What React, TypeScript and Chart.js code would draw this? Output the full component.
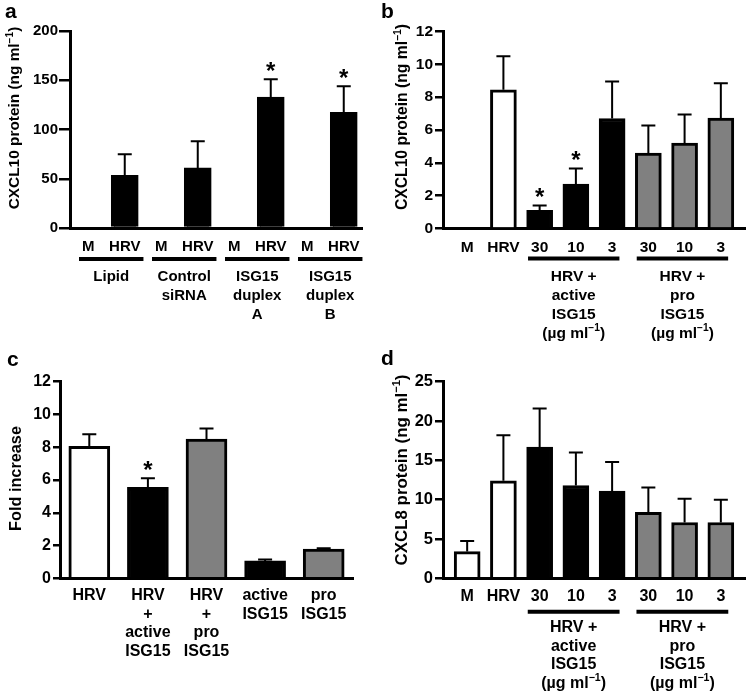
import React, { useEffect, useRef } from "react";
import { Chart, registerables } from "chart.js";

Chart.register(...registerables);

const FONT = "'Liberation Sans', Arial, Helvetica, sans-serif";
const WHITE = "#ffffff";
const BLACK = "#000000";
const GRAY = "#808080";

// ---------- Panel a ----------
const aCategories = ["M", "HRV", "M", "HRV", "M", "HRV", "M", "HRV"];
const aValues = [null, 53.5, null, 61, null, 133, null, 117.5];
const aErrors = [null, 75, null, 88, null, 151, null, 144];
const aFills = [BLACK, BLACK, BLACK, BLACK, BLACK, BLACK, BLACK, BLACK];
const aStars = [false, false, false, false, false, true, false, true];
const aYTicks = [0, 50, 100, 150, 200];
const aGroupRanges = [[0, 1], [2, 3], [4, 5], [6, 7]];
const aGroupLabels = [["Lipid"], ["Control", "siRNA"], ["ISG15", "duplex", "A"], ["ISG15", "duplex", "B"]];

// ---------- Panel b ----------
const bCategories = ["M", "HRV", "30", "10", "3", "30", "10", "3"];
const bValues = [null, 8.45, 1.1, 2.7, 6.7, 4.6, 5.2, 6.72];
const bErrors = [null, 10.5, 1.4, 3.65, 8.95, 6.27, 6.95, 8.85];
const bFills = [WHITE, WHITE, BLACK, BLACK, BLACK, GRAY, GRAY, GRAY];
const bStars = [false, false, true, true, false, false, false, false];
const bYTicks = [0, 2, 4, 6, 8, 10, 12];
const bGroupRanges = [[2, 4], [5, 7]];
const bGroupLabels = [["HRV +", "active", "ISG15", "(µg ml{−1})"], ["HRV +", "pro", "ISG15", "(µg ml{−1})"]];

// ---------- Panel c ----------
const cCategories = [["HRV"], ["HRV", "+", "active", "ISG15"], ["HRV", "+", "pro", "ISG15"], ["active", "ISG15"], ["pro", "ISG15"]];
const cValues = [8.05, 5.55, 8.5, 1.06, 1.78];
const cErrors = [8.8, 6.1, 9.15, 1.15, 1.84];
const cFills = [WHITE, BLACK, GRAY, BLACK, GRAY];
const cStars = [false, true, false, false, false];
const cYTicks = [0, 2, 4, 6, 8, 10, 12];

// ---------- Panel d ----------
const dCategories = ["M", "HRV", "30", "10", "3", "30", "10", "3"];
const dValues = [3.4, 12.4, 16.7, 11.8, 11.1, 8.4, 7.1, 7.1];
const dErrors = [4.75, 18.2, 21.6, 16.0, 14.8, 11.55, 10.1, 10.0];
const dFills = [WHITE, WHITE, BLACK, BLACK, BLACK, GRAY, GRAY, GRAY];
const dStars = [false, false, false, false, false, false, false, false];
const dYTicks = [0, 5, 10, 15, 20, 25];
const dGroupRanges = [[2, 4], [5, 7]];
const dGroupLabels = [["HRV +", "active", "ISG15", "(µg ml{−1})"], ["HRV +", "pro", "ISG15", "(µg ml{−1})"]];

type Seg = { t: string; sup: boolean };
function parseRich(s: string): Seg[] {
  const out: Seg[] = [];
  s.split(/(\{[^}]*\})/).forEach((p) => {
    if (!p) return;
    if (p.startsWith("{")) out.push({ t: p.slice(1, -1), sup: true });
    else out.push({ t: p, sup: false });
  });
  return out;
}
function drawRich(ctx: CanvasRenderingContext2D, s: string, x: number, y: number, size: number) {
  const segs = parseRich(s);
  const supSize = size * 0.66;
  const fontOf = (sup: boolean) => `bold ${sup ? supSize : size}px ${FONT}`;
  let total = 0;
  const widths = segs.map((g) => {
    ctx.font = fontOf(g.sup);
    const w = ctx.measureText(g.t).width;
    total += w;
    return w;
  });
  let cx = x - total / 2;
  ctx.textAlign = "left";
  ctx.textBaseline = "middle";
  segs.forEach((g, i) => {
    ctx.font = fontOf(g.sup);
    ctx.fillText(g.t, cx, g.sup ? y - size * 0.32 : y);
    cx += widths[i];
  });
}

type PanelCfg = {
  left: number; top: number; W: number; H: number;
  categories: any[]; values: (number | null)[]; errors: (number | null)[];
  fills: string[]; stars: boolean[]; yTicks: number[];
  groupRanges?: number[][]; groupLabels?: string[][];
  title: string; letter: string;
  axisLeft: number; axisTop: number; axisBottom: number; axisRight: number;
  xMin: number; xMax: number; barWidth: number;
  tickLen: number; tickPad: number; yFont: number; xFont: number; xLH: number; xPad: number;
  groupLine?: number; groupText?: number; groupLH?: number; groupFont?: number;
  titleX: number; titleY: number; titleFont: number;
  letterX: number; letterY: number;
};

const panels: PanelCfg[] = [
  {
    left: 0, top: 0, W: 373, H: 346,
    categories: aCategories, values: aValues, errors: aErrors, fills: aFills, stars: aStars, yTicks: aYTicks,
    groupRanges: aGroupRanges, groupLabels: aGroupLabels,
    title: "CXCL10 protein (ng ml{−1})", letter: "a",
    axisLeft: 70, axisTop: 31, axisBottom: 228, axisRight: 362,
    xMin: -0.5, xMax: 7.5, barWidth: 27,
    tickLen: 11, tickPad: 1, yFont: 15, xFont: 15, xLH: 1.2, xPad: 10,
    groupLine: 31, groupText: 49, groupLH: 19, groupFont: 15,
    titleX: 15, titleY: 118, titleFont: 15.4, letterX: 5, letterY: 18,
  },
  {
    left: 373, top: 0, W: 373, H: 346,
    categories: bCategories, values: bValues, errors: bErrors, fills: bFills, stars: bStars, yTicks: bYTicks,
    groupRanges: bGroupRanges, groupLabels: bGroupLabels,
    title: "CXCL10 protein (ng ml{−1})", letter: "b",
    axisLeft: 70, axisTop: 31.5, axisBottom: 228.5, axisRight: 372,
    xMin: -0.667, xMax: 7.667, barWidth: 26,
    tickLen: 8, tickPad: 2, yFont: 15.5, xFont: 15.5, xLH: 1.2, xPad: 10,
    groupLine: 30, groupText: 48.5, groupLH: 18.8, groupFont: 15.5,
    titleX: 30, titleY: 117, titleFont: 15.7, letterX: 8, letterY: 18,
  },
  {
    left: 0, top: 346, W: 373, H: 347,
    categories: cCategories, values: cValues, errors: cErrors, fills: cFills, stars: cStars, yTicks: cYTicks,
    title: "Fold increase", letter: "c",
    axisLeft: 60, axisTop: 35.7, axisBottom: 232.3, axisRight: 353,
    xMin: -0.5, xMax: 4.5, barWidth: 41,
    tickLen: 7, tickPad: 2, yFont: 16, xFont: 16, xLH: 1.15, xPad: 8.5,
    titleX: 16.5, titleY: 132.5, titleFont: 16.3, letterX: 7, letterY: 20,
  },
  {
    left: 373, top: 346, W: 373, H: 347,
    categories: dCategories, values: dValues, errors: dErrors, fills: dFills, stars: dStars, yTicks: dYTicks,
    groupRanges: dGroupRanges, groupLabels: dGroupLabels,
    title: "CXCL8 protein (ng ml{−1})", letter: "d",
    axisLeft: 70, axisTop: 35.7, axisBottom: 232.3, axisRight: 372,
    xMin: -0.667, xMax: 7.667, barWidth: 26,
    tickLen: 8, tickPad: 2, yFont: 16.5, xFont: 16, xLH: 1.2, xPad: 8.5,
    groupLine: 33.4, groupText: 49.4, groupLH: 18.6, groupFont: 16,
    titleX: 29.5, titleY: 124, titleFont: 16.9, letterX: 8, letterY: 19,
  },
];

function makeDecor(p: PanelCfg) {
  return {
    id: "decor" + p.letter,
    afterDatasetsDraw(chart: any) {
      const ctx: CanvasRenderingContext2D = chart.ctx;
      const meta = chart.getDatasetMeta(0);
      const ys = chart.scales.y;
      ctx.save();
      ctx.strokeStyle = BLACK;
      ctx.fillStyle = BLACK;
      ctx.lineWidth = 2;
      p.errors.forEach((e, i) => {
        const v = p.values[i];
        if (e == null || v == null) return;
        const el = meta.data[i];
        const x = el.x;
        const yTop = ys.getPixelForValue(e);
        const yV = ys.getPixelForValue(v);
        ctx.beginPath();
        ctx.moveTo(x, yV);
        ctx.lineTo(x, yTop);
        ctx.moveTo(x - 7, yTop);
        ctx.lineTo(x + 7, yTop);
        ctx.stroke();
        if (p.stars[i]) {
          const fs = 24;
          ctx.font = `bold ${fs}px ${FONT}`;
          ctx.textAlign = "center";
          ctx.textBaseline = "alphabetic";
          ctx.fillText("*", x, yTop - 14 + fs * 0.575);
        }
      });
      ctx.restore();
    },
    afterDraw(chart: any) {
      const ctx: CanvasRenderingContext2D = chart.ctx;
      const xs = chart.scales.x;
      ctx.save();
      ctx.fillStyle = BLACK;
      ctx.strokeStyle = BLACK;
      if (p.groupRanges && p.groupLabels) {
        p.groupRanges.forEach((rg, gi) => {
          const [s, e] = rg;
          ctx.font = `bold ${p.xFont}px ${FONT}`;
          const lw = ctx.measureText(String(p.categories[s])).width;
          const rw = ctx.measureText(String(p.categories[e])).width;
          const l = xs.getPixelForValue(s) - lw / 2 - 3;
          const r = xs.getPixelForValue(e) + rw / 2 + 3;
          const ly = xs.top + (p.groupLine as number);
          ctx.lineWidth = 4;
          ctx.beginPath();
          ctx.moveTo(l, ly);
          ctx.lineTo(r, ly);
          ctx.stroke();
          p.groupLabels![gi].forEach((ln, li) => {
            drawRich(ctx, ln, (l + r) / 2, xs.top + (p.groupText as number) + li * (p.groupLH as number), p.groupFont as number);
          });
        });
      }
      // y title
      ctx.save();
      ctx.translate(p.titleX, p.titleY);
      ctx.rotate(-Math.PI / 2);
      drawRich(ctx, p.title, 0, 0, p.titleFont);
      ctx.restore();
      // letter
      ctx.font = `bold 21px ${FONT}`;
      ctx.textAlign = "left";
      ctx.textBaseline = "alphabetic";
      ctx.fillText(p.letter, p.letterX, p.letterY);
      ctx.restore();
    },
  };
}

function Panel({ p }: { p: PanelCfg }) {
  const ref = useRef<HTMLCanvasElement | null>(null);
  useEffect(() => {
    if (!ref.current) return;
    const chart = new Chart(ref.current, {
      type: "bar",
      data: {
        datasets: [
          {
            data: p.values.map((v, i) => ({ x: i, y: v })) as any,
            backgroundColor: p.fills,
            borderColor: BLACK,
            borderWidth: 3,
            barThickness: p.barWidth,
          },
        ],
      },
      options: {
        animation: false,
        responsive: false,
        events: [],
        layout: { padding: { left: 0, top: p.axisTop, right: p.W - p.axisRight, bottom: 0 } },
        plugins: { legend: { display: false }, tooltip: { enabled: false }, title: { display: false } },
        scales: {
          x: {
            type: "linear",
            min: p.xMin,
            max: p.xMax,
            offset: false,
            z: 1,
            grid: { display: false, drawTicks: false, offset: false },
            border: { display: true, width: 3, color: BLACK },
            afterFit: (s: any) => { s.height = p.H - p.axisBottom; },
            afterBuildTicks: (s: any) => { s.ticks = p.categories.map((_, i) => ({ value: i })); },
            ticks: {
              autoSkip: false,
              maxRotation: 0,
              minRotation: 0,
              padding: p.xPad,
              color: BLACK,
              font: { family: FONT, size: p.xFont, weight: "bold", lineHeight: p.xLH },
              callback: (v: any) => p.categories[Math.round(Number(v))],
            },
          },
          y: {
            type: "linear",
            min: p.yTicks[0],
            max: p.yTicks[p.yTicks.length - 1],
            grid: { display: true, drawOnChartArea: false, drawTicks: true, tickLength: p.tickLen, lineWidth: 2.5, color: BLACK },
            border: { display: true, width: 3, color: BLACK },
            afterFit: (s: any) => { s.width = p.axisLeft; },
            afterBuildTicks: (s: any) => { s.ticks = p.yTicks.map((v) => ({ value: v })); },
            ticks: {
              padding: p.tickPad,
              color: BLACK,
              font: { family: FONT, size: p.yFont, weight: "bold" },
            },
          },
        },
      } as any,
      plugins: [makeDecor(p)],
    });
    return () => chart.destroy();
  }, [p]);
  return (
    <canvas
      ref={ref}
      width={p.W}
      height={p.H}
      style={{ position: "absolute", left: p.left, top: p.top, width: p.W, height: p.H }}
    />
  );
}

export default function App() {
  return (
    <div style={{ position: "absolute", left: 0, top: 0, width: 746, height: 693, background: WHITE }}>
      {panels.map((p) => (
        <Panel key={p.letter} p={p} />
      ))}
    </div>
  );
}
